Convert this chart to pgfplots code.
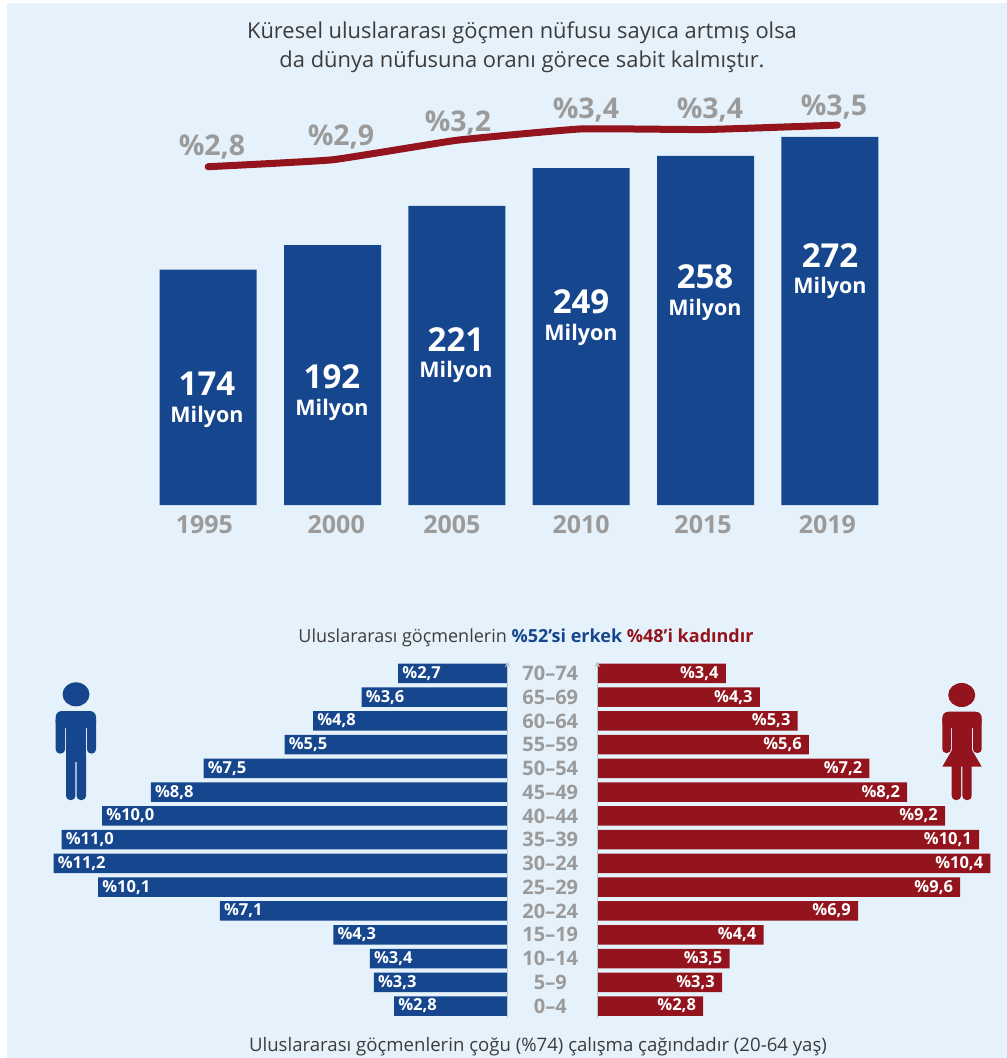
\documentclass[border=0pt]{standalone}
\usepackage{fontspec}
\setmainfont{Open Sans}
\usepackage{pgfplots}
\usepackage{pgfplotstable}
\pgfplotsset{compat=1.18}
\definecolor{bg}{RGB}{230,242,251}
\definecolor{navy}{RGB}{22,71,142}
\definecolor{wine}{RGB}{147,20,28}
\definecolor{label}{RGB}{155,155,155}
\definecolor{ink}{RGB}{60,60,60}
\definecolor{spine}{RGB}{190,198,206}

\newcommand{\fs}[1]{\fontsize{#1}{#1}\selectfont}

% migrants, millions, and share of world population (lx: the line runs past the last bar centre)
\pgfplotstableread{
x mil lx share
0 174 0 2.80
1 192 1 2.91
2 221 2 3.22
3 249 3 3.40
4 258 4 3.39
5 272 5.06 3.46
}\stock

% age groups, bottom row first
\pgfplotstableread{
row men women
0  2.8 2.8
1  3.3 3.3
2  3.4 3.5
3  4.3 4.4
4  7.1 6.9
5  10.1 9.6
6  11.2 10.4
7  11.0 10.1
8  10.0 9.2
9  8.8 8.2
10 7.5 7.2
11 5.5 5.6
12 4.8 5.3
13 3.6 4.3
14 2.7 3.4
}\ages

\pgfplotsset{
  pyramid/.style={
    scale only axis, height=356.4pt, ymin=-0.5, ymax=14.5,
    xbar, bar width=19.5pt, xmin=0,
    axis x line=none, axis on top,
    axis line style={-, draw=spine, line width=1.5pt},
    major tick length=0pt, xtick=\empty,
    point meta=x,
    nodes near coords={\%\pgfmathprintnumber[fixed,fixed zerofill,precision=1,use comma,assume math mode=true]{\pgfplotspointmeta}},
    every node near coord/.append style={font=\fs{16.5}\bfseries, text=white, inner sep=0pt},
  },
}

\begin{document}
\begin{tikzpicture}
\path[use as bounding box] (0,0) rectangle (1007pt,-1058pt);
\fill[bg] (7pt,-3pt) rectangle (1007pt,-1058pt);

% bars
\begin{axis}[
  at={(146pt,-505pt)}, anchor=south west, scale only axis,
  width=746pt, height=405pt,
  xmin=-0.5, xmax=5.5, ymin=0, ymax=299.3,
  ybar, bar width=97pt,
  axis y line=none, axis x line=bottom,
  axis line style={draw=none},
  major tick length=0pt, ytick=\empty,
  xtick={-0.03,1.03,1.96,3,3.98,4.98}, xticklabels={1995,2000,2005,2010,2015,2019},
  xticklabel style={font=\fs{25}\bfseries, text=label, yshift=-7pt},
]
\addplot[fill=navy, draw=none] table[x=x, y=mil] {\stock};
\end{axis}

% share line
\begin{axis}[
  at={(146pt,-505pt)}, anchor=south west, scale only axis,
  width=746pt, height=405pt,
  xmin=-0.5, xmax=5.5, ymin=-2.57, ymax=3.859,
  hide axis,
]
\addplot[wine, line width=7pt, line cap=round, line join=round, smooth, tension=0.2] table[x=lx, y=share] {\stock};
\end{axis}

% men
\begin{axis}[
  pyramid, at={(4.9pt,-1017.9pt)}, anchor=south west,
  width=502.8pt, xmax=12.4, x dir=reverse,
  axis y line=right, ytick=\empty,
  nodes near coords align={anchor=west},
  every node near coord/.append style={xshift=4pt},
]
\addplot[fill=navy, draw=none] table[x=men, y=row] {\ages};
\end{axis}

% women
\begin{axis}[
  pyramid, at={(597.3pt,-1017.9pt)}, anchor=south west,
  width=408.2pt, xmax=10.8,
  axis y line=left,
  nodes near coords align={anchor=east},
  every node near coord/.append style={xshift=-7pt},
  ytick={0,...,14},
  yticklabels={0–4,5–9,10–14,15–19,20–24,25–29,30–24,35–39,40–44,45–49,50–54,55–59,60–64,65–69,70–74},
  yticklabel style={font=\fs{20}\bfseries, text=label, anchor=center, xshift=-47pt},
]
\addplot[fill=wine, draw=none] table[x=women, y=row] {\ages};
\end{axis}

\begin{scope}[x=1pt, y=-1pt]
% titles
\node[text=ink, font=\fs{21.9}] at (522,33) {Küresel uluslararası göçmen nüfusu sayıca artmış olsa};
\node[text=ink, font=\fs{21.9}] at (522,62) {da dünya nüfusuna oranı görece sabit kalmıştır.};
\node[font=\fs{18}] at (526,638) {\textcolor{ink}{Uluslararası göçmenlerin} \textcolor{navy}{\bfseries\%52’si erkek} \textcolor{wine}{\bfseries\%48’i kadındır}};
\node[text=ink, font=\fs{18.6}] at (538,1047) {Uluslararası göçmenlerin çoğu (\%74) çalışma çağındadır (20-64 yaş)};

% share labels
\foreach \px/\py/\t in {212/147/{\%2,8}, 341/137/{\%2,9}, 458/123/{\%3,2}, 586/110/{\%3,4}, 710/110/{\%3,4}, 834/107/{\%3,5}}
  \node[text=label, font=\fs{28.5}\bfseries] at (\px,\py) {\t};

% bar labels
\foreach \px/\pa/\pb/\t in {207/384/417/174, 332/377/410/192, 456/340/372/221, 581/302/335/249, 705/277/310/258, 830/256/288/272} {
  \node[text=white, font=\fs{33}\bfseries] at (\px,\pa) {\t};
  \node[text=white, font=\fs{21.5}\bfseries] at (\px,\pb) {Milyon};
}

% man
\fill[navy] (76,694.3) ellipse (13.5 and 12);
\fill[navy, rounded corners=6] (55.7,711) rectangle (96,728);
\fill[navy, rounded corners=4] (55.7,716) rectangle (65,753.5);
\fill[navy, rounded corners=4] (87,716) rectangle (96,753.5);
\fill[navy] (66,715) rectangle (86,762);
\fill[navy, rounded corners=4] (66,750) rectangle (75.4,800);
\fill[navy, rounded corners=4] (76.6,750) rectangle (86,800);

% woman
\fill[wine] (961.7,695) ellipse (13.5 and 12);
\fill[wine, rounded corners=6] (942.3,711.7) rectangle (981.7,728);
\fill[wine, rounded corners=4] (942.3,716) rectangle (951,753);
\fill[wine, rounded corners=4] (973,716) rectangle (981.7,753);
\fill[wine] (952,715) rectangle (972,755);
\fill[wine] (952,750) -- (972,750) -- (981.7,766.7) -- (942.3,766.7) -- cycle;
\fill[wine, rounded corners=4] (951.7,760) rectangle (961,800);
\fill[wine, rounded corners=4] (962.4,760) rectangle (971.7,800);
\end{scope}
\end{tikzpicture}
\end{document}
